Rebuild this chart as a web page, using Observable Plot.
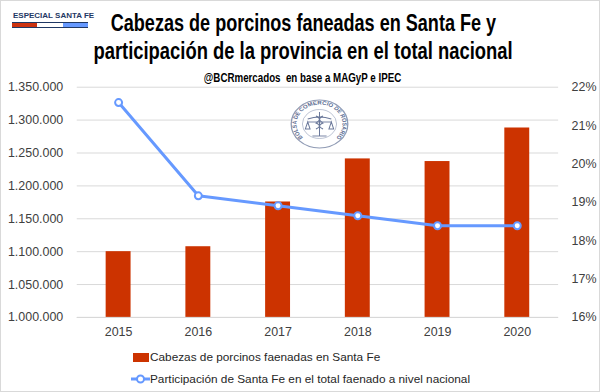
<!DOCTYPE html>
<html><head><meta charset="utf-8">
<script src="https://cdn.jsdelivr.net/npm/d3@7"></script>
<script src="https://cdn.jsdelivr.net/npm/@observablehq/plot@0.6"></script>
<style>
html,body{margin:0;padding:0;background:#fff;}
#wrap{position:relative;width:600px;height:392px;overflow:hidden;background:#fff;box-sizing:border-box;border:1px solid #d9d9d9;}
.abs{position:absolute;}
.tline{position:absolute;left:0;width:604px;text-align:center;white-space:nowrap;}
.tline span{display:inline-block;font-family:"Liberation Sans",Arial,sans-serif;font-weight:bold;color:#000;transform-origin:50% 50%;}
.leg{font-family:"Liberation Sans",Arial,sans-serif;font-size:11.8px;color:#262626;white-space:nowrap;}
#chart svg{overflow:visible;}
</style></head>
<body><div id="wrap">
<div id="chart" class="abs" style="left:0;top:0;"></div>
<div class="tline" style="top:8px;"><span style="font-size:23px;line-height:28px;transform:scaleX(0.785);">Cabezas de porcinos faneadas en Santa Fe y</span></div>
<div class="tline" style="top:36px;"><span style="font-size:23px;line-height:28px;transform:scaleX(0.8);">participación de la provincia en el total nacional</span></div>
<div class="tline" style="top:67px;"><span style="font-size:12.5px;line-height:16px;transform:scaleX(0.78);">@BCRmercados&nbsp; en base a MAGyP e IPEC</span></div>
<div class="abs" style="left:12px;top:10px;height:10px;line-height:10px;white-space:nowrap;font-family:'Liberation Sans',Arial,sans-serif;font-weight:bold;font-size:8px;color:#1f3864;">ESPECIAL SANTA FE</div>
<div class="abs" style="left:11px;top:21px;width:76px;height:4px;display:flex;border-top:1px solid #1f3864;border-bottom:1px solid #1f3864;">
 <div style="flex:1;background:#cc3311"></div><div style="flex:1;background:#fff"></div><div style="flex:1;background:#6699ff"></div>
</div>
<svg class="abs" style="left:289px;top:98px;" width="59" height="50" viewBox="-25 -25 50 50" preserveAspectRatio="none">
 <defs><path id="arc" d="M -8 17.8 A 19.5 19.5 0 1 1 8 17.8"/></defs>
 <circle r="24" fill="#fff" stroke="#7d8aa8" stroke-width="1.1" opacity="0.85"/>
 <circle r="14.5" fill="none" stroke="#9aa5bd" stroke-width="0.6"/>
 <text font-family="Liberation Sans,Arial" font-size="5.2" fill="#5d6d92" font-weight="bold"><textPath href="#arc" startOffset="50%" text-anchor="middle">BOLSA DE COMERCIO DE ROSARIO</textPath></text>
 <g stroke="#6a789a" stroke-width="0.9" fill="none">
  <line x1="0" y1="-12" x2="0" y2="12"/>
  <path d="M -10 -5 Q 0 -9 10 -5"/>
  <line x1="-10" y1="-2" x2="10" y2="-2"/>
  <path d="M -10 -2 L -12 5 L -8 5 Z M 10 -2 L 8 5 L 12 5 Z"/>
  <path d="M -3 -8 Q 3 -5 -3 -1 Q 3 2 -3 5 M 3 -8 Q -3 -5 3 -1 Q -3 2 3 5"/>
  <line x1="-6" y1="12" x2="6" y2="12"/>
 </g>
</svg>
<div class="abs leg" style="left:132px;top:348px;display:flex;align-items:center;height:16px;">
 <span style="display:inline-block;width:16px;height:9px;background:#cc3300;margin-right:1px;"></span>Cabezas de porcinos faenadas en Santa Fe</div>
<div class="abs leg" style="left:130px;top:370px;display:flex;align-items:center;height:16px;">
 <svg width="19" height="10"><line x1="0" y1="5" x2="19" y2="5" stroke="#6699ff" stroke-width="3"/><circle cx="9.5" cy="5" r="3.5" fill="#fff" stroke="#6699ff" stroke-width="2"/></svg>Participación de Santa Fe en el total faenado a nivel nacional</div>
</div>
<script>
const years = ["2015","2016","2017","2018","2019","2020"];
const cabezas = [1100000, 1107500, 1175500, 1241000, 1237000, 1288000];
const participacion = [21.6, 19.17, 18.91, 18.65, 18.39, 18.39];
const leftTicks = [1000000,1050000,1100000,1150000,1200000,1250000,1300000,1350000];
const rightTicks = [16,17,18,19,20,21,22];

const yMin = 1000000, yMax = 1350000, pMin = 16, pMax = 22;
const toY = p => yMin + (p - pMin) / (pMax - pMin) * (yMax - yMin);
const fromY = v => pMin + (v - yMin) / (yMax - yMin) * (pMax - pMin);

const bars = years.map((y,i)=>({year:y, value:cabezas[i]}));
const line = years.map((y,i)=>({year:y, p:participacion[i], v:toY(participacion[i])}));
const fmt = d => d3.format(",")(d).replace(/,/g,".");

const plot = Plot.plot({
  width: 600, height: 345,
  marginLeft: 76, marginRight: 41, marginTop: 86, marginBottom: 28,
  style: {fontFamily: "Liberation Sans, Arial, sans-serif", fontSize: "12px", color: "#404040", background: "transparent"},
  x: {type: "band", domain: years, paddingInner: 0.69, paddingOuter: 0.345, label: null},
  y: {domain: [yMin, yMax], label: null},
  marks: [
    Plot.gridY(leftTicks, {stroke: "#d9d9d9", strokeOpacity: 1, strokeWidth: 1}),
    Plot.barY(bars, {x: "year", y1: yMin, y2: "value", fill: "#cc3300"}),
    Plot.ruleY([yMin], {stroke: "#d9d9d9", strokeWidth: 1}),
    Plot.axisY({ticks: leftTicks, tickSize: 0, tickPadding: 14, tickFormat: fmt, label: null, fontSize: 12.5}),
    Plot.axisY({anchor: "right", ticks: rightTicks.map(toY), tickSize: 0, tickPadding: 13, tickFormat: v => Math.round(fromY(v)) + "%", label: null, fontSize: 12.5}),
    Plot.axisX({tickSize: 0, tickPadding: 10, label: null, fontSize: 12.5}),
    Plot.line(line, {x: "year", y: "v", stroke: "#6699ff", strokeWidth: 3}),
    Plot.dot(line, {x: "year", y: "v", r: 3.5, fill: "#fff", stroke: "#6699ff", strokeWidth: 2})
  ]
});
document.getElementById("chart").appendChild(plot);
</script>
</body></html>
